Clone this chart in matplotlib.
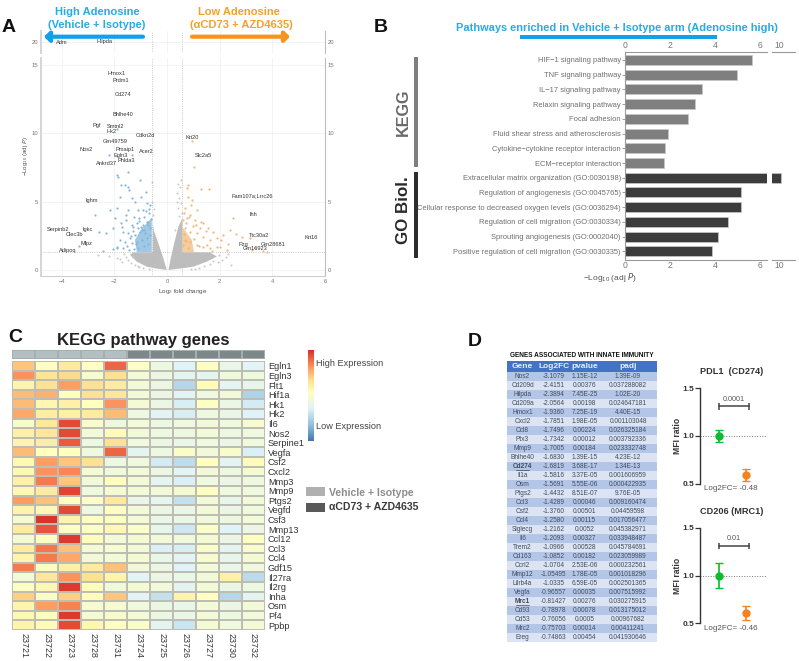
# Multi panel figure: volcano, pathway bars, heatmap, gene table and MFI plots

import numpy as np
import matplotlib
matplotlib.use("Agg")
import matplotlib.pyplot as plt
from matplotlib.colors import LinearSegmentedColormap
from matplotlib.patches import Rectangle

plt.rcParams["font.family"] = ["Liberation Sans", "DejaVu Sans"]
plt.rcParams["mathtext.default"] = "regular"

# ---- panel A data ----
grey_left_x = [-0.01, -0.39, -0.77, -1.15, -1.41, -1.28, -0.545, -0.545, -0.49, -0.33, -0.14]
grey_left_y = [0, 0.10, 0.24, 0.61, 1.10, 1.29, 1.29, 3.41, 2.80, 1.95, 0.85]
grey_right_x = [0.05, 0.49, 1.00, 1.51, 1.89, 1.63, 0.58, 0.58, 0.43, 0.27, 0.14]
grey_right_y = [0, 0.10, 0.24, 0.61, 0.98, 1.29, 1.29, 3.78, 3.17, 1.95, 0.85]
blue_dense_x = [-0.58, -1.15, -1.22, -0.96, -0.58]
blue_dense_y = [1.30, 1.30, 2.20, 3.05, 3.80]
orange_dense_x = [0.58, 1.02, 0.94, 0.62, 0.58]
orange_dense_y = [1.30, 1.30, 2.20, 3.05, 3.05]

blue_x = [-1.91, -1.85, -1.50, -1.60, -1.47, -1.43, -1.76, -1.03, -0.81, -1.91, -2.17, -1.98,
          -2.04, -2.32, -2.57, -2.42, -2.07, -1.89, -1.79, -1.34, -1.22, -1.47, -1.09, -0.77,
          -0.65, -1.56, -1.76, -1.25, -1.05, -0.87, -0.70, -1.34, -1.09, -0.90, -0.71, -1.66,
          -1.47, -1.22, -1.03, -0.84, -0.65, -1.79, -1.60, -1.34, -1.15, -0.96, -0.77, -1.91,
          -1.66, -1.43, -1.24, -3.34, -2.73, -1.89, -2.20, -1.33, -1.13, -0.98, -0.86, -0.74,
          -1.28, -1.41, -1.52, -0.92, -1.18, -0.69, -0.62, -1.72, -1.37, -0.81, -1.00, -1.55,
          -0.66, -0.88, -1.12, -1.31, -0.72, -0.95, -1.08, -0.78]
blue_y = [6.95, 6.83, 7.20, 6.22, 6.10, 5.85, 6.22, 6.59, 5.73, 4.51, 4.39, 3.78,
          3.05, 2.73, 2.80, 1.41, 1.51, 1.59, 5.37, 5.24, 5.00, 4.39, 4.39, 4.88,
          4.76, 4.02, 3.41, 3.90, 3.61, 3.90, 4.15, 3.29, 3.05, 3.29, 3.54, 2.80,
          2.68, 2.56, 2.80, 2.68, 3.05, 2.20, 2.07, 1.95, 2.07, 2.20, 2.32, 1.66,
          1.59, 1.46, 1.51, 1.75, 4.05, 10.30, 8.40, 8.40, 3.42, 3.12, 2.94, 3.27,
          3.12, 2.36, 1.72, 4.42, 1.88, 4.45, 3.72, 3.15, 2.48, 4.28, 5.31, 3.62,
          2.58, 1.78, 1.62, 2.88, 1.92, 2.94, 3.82, 3.48]
orange_x = [1.03, 0.81, 0.75, 0.81, 1.29, 1.61, 0.68, 0.94, 1.13, 0.87, 1.06, 1.38,
            1.57, 1.76, 1.25, 0.75, 0.68, 0.87, 1.13, 1.38, 1.63, 1.89, 2.14, 2.40,
            2.52, 2.84, 3.16, 1.89, 2.27, 0.68, 0.87, 1.13, 1.38, 1.63, 2.02, 3.22,
            3.66, 3.35, 3.79, 0.93, 0.63, 0.72, 0.66, 0.97, 1.04, 0.78, 1.20, 1.46,
            0.62, 0.90, 1.10, 0.70, 1.30, 1.52, 2.05, 2.62, 2.30, 0.83, 0.60, 1.72]
orange_y = [7.51, 6.22, 5.98, 5.37, 5.90, 5.90, 4.51, 5.12, 4.39, 4.02, 3.66, 3.41,
            3.05, 2.80, 3.05, 3.78, 3.05, 2.80, 2.68, 2.44, 2.20, 2.32, 2.56, 2.93,
            3.78, 2.44, 2.32, 1.71, 1.46, 2.20, 2.07, 1.83, 1.66, 1.59, 1.66, 1.46,
            1.41, 1.59, 1.34, 9.45, 4.20, 3.42, 2.62, 3.18, 2.30, 1.62, 1.72, 2.88,
            1.86, 4.72, 3.30, 2.12, 3.52, 1.82, 2.18, 2.66, 1.92, 3.86, 3.62, 1.42]
grey_pts_x = [0.43, 0.50, 0.38, 0.47, 0.53, 0.41, 0.55, 0.36, -0.56, -0.50, -0.55, 0.52, 0.45,
              -1.55, -1.92, -2.20, -2.62, 2.44, 2.10, 1.92, 2.22, -1.70, 0.30, -0.58,
              -1.48, -1.36, -1.22, -1.08, -0.92, -1.62, -1.30, -0.70, 1.62, 1.74, 1.40, 1.20, 0.92,
              1.98, 2.30, -1.80, -1.10, 1.05]
grey_pts_y = [6.30, 6.05, 5.62, 5.25, 4.90, 4.55, 4.20, 4.95, 5.00, 4.45, 4.05, 6.55, 3.95,
              0.95, 0.88, 1.02, 1.10, 0.35, 0.72, 0.55, 0.92, 0.62, 2.90, 6.40,
              0.72, 0.48, 0.40, 0.22, 0.12, 1.20, 0.92, 0.08, 0.42, 0.66, 0.28, 0.12, 0.08,
              1.12, 1.20, 0.78, 0.30, 0.06]

gene_labels = ["Hmox1", "Prdm1", "Cd274", "Bhlhe40", "Pgf", "Smtnl2", "Hk2", "Cdkn2d", "Krt20",
               "Gm49759", "Nos2", "Pmaip1", "Acer2", "Egln3", "Slc2a5", "Phlda3", "Ankrd37",
               "Fam107a;Lrrc26", "Ighm", "Ihh", "Serpinb2", "Igkc", "Clec3b", "Ttc30a2", "Krt16",
               "Mlpz", "Pzg", "Gm28681", "Gm16923", "Adipoq"]
gene_label_x = [-1.94, -1.77, -1.67, -1.67, -2.67, -1.96, -2.12, -0.84, 0.94, -1.96, -3.09, -1.58,
                -0.80, -1.75, 1.37, -1.56, -2.29, 3.22, -2.86, 3.26, -4.13, -3.00, -3.51, 3.49,
                5.49, -3.08, 2.88, 4.04, 3.35, -3.78]
gene_label_y = [14.34, 13.85, 12.83, 11.34, 10.60, 10.50, 10.15, 9.80, 9.70, 9.36, 8.83, 8.78,
                8.68, 8.34, 8.34, 8.02, 7.78, 5.41, 5.05, 4.05, 2.97, 2.97, 2.58, 2.49,
                2.34, 1.93, 1.88, 1.88, 1.56, 1.46]
top_labels = ["Adm", "Hilpda"]
top_label_x = [-3.99, -2.38]
top_label_y = [20, 20]

# ---- panel B data ----
kegg_names = ["HIF\u22121 signaling pathway", "TNF signaling pathway", "IL\u221217 signaling pathway",
              "Relaxin signaling pathway", "Focal adhesion", "Fluid shear stress and atherosclerosis",
              "Cytokine\u2212cytokine receptor interaction", "ECM\u2212receptor interaction"]
kegg_values = [5.63, 4.96, 3.42, 3.13, 2.82, 1.91, 1.79, 1.72]
go_names = ["Extracellular matrix organization (GO:0030198)", "Regulation of angiogenesis (GO:0045765)",
            "Cellular response to decreased oxygen levels (GO:0036294)",
            "Regulation of cell migration (GO:0030334)", "Sprouting angiogenesis (GO:0002040)",
            "Positive regulation of cell migration (GO:0030335)"]
go_values = [10.06, 5.14, 5.14, 4.56, 4.15, 3.89]

# ---- panel C data ----
heat_genes = ["Egln1", "Egln3", "Flt1", "Hif1a", "Hk1", "Hk2", "Il6", "Nos2", "Serpine1", "Vegfa",
              "Csf2", "Cxcl2", "Mmp3", "Mmp9", "Ptgs2", "Vegfd", "Csf3", "Mmp13", "Ccl12", "Ccl3",
              "Ccl4", "Gdf15", "Il27ra", "Il2rg", "Inha", "Osm", "Pf4", "Ppbp"]
heat_samples = ["23721", "23722", "23723", "23728", "23731", "23724", "23725", "23726", "23727", "23730", "23732"]
heat_values = [
    [.72, .53, .62, .53, .90, .52, .43, .36, .52, .41, .37],
    [.82, .65, .68, .48, .66, .46, .42, .38, .38, .44, .44],
    [.58, .66, .80, .66, .62, .46, .42, .26, .55, .38, .40],
    [.74, .76, .53, .66, .64, .46, .42, .37, .44, .45, .24],
    [.74, .57, .60, .53, .82, .47, .42, .34, .52, .42, .33],
    [.78, .61, .60, .62, .74, .43, .37, .34, .43, .41, .36],
    [.49, .63, .95, .49, .43, .46, .43, .44, .45, .44, .48],
    [.60, .64, .95, .46, .55, .45, .43, .43, .46, .43, .44],
    [.58, .61, .92, .43, .66, .44, .42, .41, .44, .42, .44],
    [.74, .53, .53, .44, .90, .38, .43, .50, .45, .49, .35],
    [.56, .80, .72, .66, .43, .44, .33, .28, .53, .38, .55],
    [.56, .82, .84, .47, .44, .46, .42, .37, .45, .43, .47],
    [.60, .86, .72, .45, .54, .46, .38, .35, .44, .42, .43],
    [.56, .62, .96, .44, .47, .46, .45, .47, .52, .44, .44],
    [.80, .73, .52, .51, .63, .41, .39, .29, .46, .40, .46],
    [.58, .56, .95, .43, .53, .46, .42, .41, .45, .42, .44],
    [.47, .99, .58, .52, .52, .46, .41, .41, .45, .43, .46],
    [.62, .93, .52, .52, .56, .51, .40, .32, .50, .36, .42],
    [.47, .52, .98, .54, .46, .47, .45, .44, .47, .42, .52],
    [.62, .87, .73, .47, .48, .46, .35, .34, .50, .38, .49],
    [.58, .86, .78, .45, .46, .47, .41, .37, .48, .40, .47],
    [.86, .52, .60, .62, .73, .45, .42, .36, .46, .41, .44],
    [.46, .64, .82, .66, .58, .37, .42, .41, .45, .60, .27],
    [.52, .56, .98, .55, .44, .47, .45, .38, .46, .42, .43],
    [.70, .50, .70, .54, .72, .37, .29, .58, .53, .26, .38],
    [.58, .80, .85, .48, .48, .44, .42, .41, .46, .42, .46],
    [.56, .54, .98, .47, .49, .46, .42, .41, .46, .43, .46],
    [.58, .55, .95, .57, .52, .50, .38, .31, .47, .44, .46],
]

# ---- panel D data ----
table_genes = ["Nos2", "Cd209d", "Hilpda", "Cd209a", "Hmox1", "Cxcl2", "Ccl8", "Ptx3", "Mmp9", "Bhlhe40",
               "Cd274", "Il1a", "Osm", "Ptgs2", "Ccl3", "Csf2", "Ccl4", "Siglecg", "Il6", "Trem2",
               "Cd163", "Ccrl2", "Mmp12", "Lilrb4a", "Vegfa", "Mrc1", "Cd93", "Cd53", "Mrc2", "Ereg"]
table_lfc = ["-3.1079", "-2.4151", "-2.3894", "-2.0564", "-1.9360", "-1.7851", "-1.7496", "-1.7342", "-1.7005",
             "-1.6830", "-1.6819", "-1.5816", "-1.5691", "-1.4432", "-1.4289", "-1.3760", "-1.2580", "-1.2162",
             "-1.2093", "-1.0966", "-1.0852", "-1.0704", "-1.05495", "-1.0335", "-0.96557", "-0.81427",
             "-0.78978", "-0.76056", "-0.75703", "-0.74863"]
table_pval = ["1.15E-12", "0.00376", "7.45E-25", "0.00198", "7.25E-19", "1.98E-05", "0.00224", "0.00012", "0.00184",
              "1.39E-15", "3.68E-17", "3.37E-05", "5.55E-06", "8.51E-07", "0.00046", "0.00501", "0.00115", "0.0052",
              "0.00327", "0.00528", "0.00182", "2.53E-06", "1.78E-05", "6.59E-05", "0.00035", "0.00276", "0.00078",
              "0.0005", "0.00014", "0.00454"]
table_padj = ["1.39E-09", "0.037288082", "1.02E-20", "0.024647181", "4.40E-15", "0.001103048", "0.026325184",
              "0.003792336", "0.023332748", "4.23E-12", "1.34E-13", "0.001606959", "0.000422935", "9.76E-05",
              "0.009160474", "0.04459598", "0.017056477", "0.045382971", "0.033948487", "0.045784691",
              "0.023059989", "0.000232561", "0.001018296", "0.002501365", "0.007515992", "0.030275915",
              "0.013175012", "0.00967682", "0.00411241", "0.041930646"]

pdl1_means = [1.0, 0.594]
pdl1_errs = [0.0625, 0.06]
cd206_means = [1.0, 0.61]
cd206_errs = [0.13, 0.075]

W, H = 799, 661
BLUE = "#29A9E6"
ORANGE = "#F5A02A"

fig = plt.figure(figsize=(W / 100, H / 100), dpi=100)


def px_axes(left, top, right, bottom):
    # axes placed with picture pixel edges
    return fig.add_axes([left / W, 1 - bottom / H, (right - left) / W, (bottom - top) / H])


# overlay in pixel coordinates for headings, side bars and the table
ov = fig.add_axes([0, 0, 1, 1], zorder=5)
ov.set_xlim(0, W)
ov.set_ylim(H, 0)
ov.axis("off")
ov.patch.set_alpha(0)

for letter, lx, ly in [("A", 9, 28), ("B", 381, 27), ("C", 15, 338), ("D", 475, 342)]:
    ov.text(lx, ly, letter, fontsize=14, fontweight="bold", ha="center", va="center", color="#111111")

# ---- panel A ----
ax_low = px_axes(41, 58, 325, 276)
ax_top = px_axes(41, 31, 325, 53)
x_lim = (-4.79, 6.0)
for ax in (ax_low, ax_top):
    ax.set_xlim(*x_lim)
    ax.set_xticks([-4, -2, 0, 2, 4, 6])
    ax.grid(True, color="#EFEFEF", lw=0.5)
    ax.set_axisbelow(True)
    ax.axvline(-0.58, color="#BBBBBB", lw=0.6, ls=":")
    ax.axvline(0.58, color="#BBBBBB", lw=0.6, ls=":")
    ax.spines["top"].set_visible(False)
    ax.spines["left"].set_color("#D5D5D5")
    ax.spines["left"].set_linewidth(1.4)
    ax.spines["right"].set_color("#BDBDBD")
    ax.spines["bottom"].set_color("#CFCFCF")
    ax.tick_params(length=0, labelsize=4.2, labelcolor="#777777", pad=2, labelright=True, right=False)

ax_low.set_ylim(-0.44, 15.5)
ax_low.set_yticks([0, 5, 10, 15])
ax_low.axhline(1.3, color="#BBBBBB", lw=0.6, ls=":")
ax_low.fill(grey_left_x, grey_left_y, color="#BDBDBD", lw=0)
ax_low.fill(grey_right_x, grey_right_y, color="#BDBDBD", lw=0)
ax_low.fill(blue_dense_x, blue_dense_y, color="#8FBFE0", lw=0, alpha=0.85)
ax_low.fill(orange_dense_x, orange_dense_y, color="#F2C48E", lw=0, alpha=0.85)
ax_low.scatter(grey_pts_x, grey_pts_y, s=2, c="#C8C8C8", lw=0)
ax_low.scatter(blue_x, blue_y, s=2.5, c="#82B6DC", lw=0)
ax_low.scatter(orange_x, orange_y, s=2.5, c="#F0B878", lw=0)
for name, gx, gy in zip(gene_labels, gene_label_x, gene_label_y):
    ax_low.text(gx, gy, name, fontsize=4.1, color="#333333", ha="center", va="center")
ax_low.set_xlabel("Log$_2$ fold change", fontsize=4.6, color="#555555", labelpad=2)
ov.text(26, 156, "\u2212Log$_{10}$ (adj $\\it{P}$)", fontsize=4.4, color="#555555", rotation=90,
        ha="center", va="center")

ax_top.set_ylim(17.6, 22.4)
ax_top.set_yticks([20])
ax_top.spines["bottom"].set_visible(False)
ax_top.tick_params(labelbottom=False)
for name, gx, gy in zip(top_labels, top_label_x, top_label_y):
    ax_top.text(gx, gy, name, fontsize=4.1, color="#333333", ha="center", va="center")

ov.text(97, 12, "High Adenosine", fontsize=8, fontweight="bold", color=BLUE, ha="center", va="center")
ov.text(97, 25, "(Vehicle + Isotype)", fontsize=8, fontweight="bold", color=BLUE, ha="center", va="center")
ov.text(239, 12, "Low Adenosine", fontsize=8, fontweight="bold", color=ORANGE, ha="center", va="center")
ov.text(241, 25, "(\u03b1CD73 + AZD4635)", fontsize=8, fontweight="bold", color=ORANGE, ha="center", va="center")
ov.annotate("", xy=(44, 36.7), xytext=(143, 36.7),
            arrowprops=dict(arrowstyle="-|>,head_width=0.3,head_length=0.3", color="#12A0EA", lw=3, shrinkA=0, shrinkB=0))
ov.annotate("", xy=(290, 36.7), xytext=(192, 36.7),
            arrowprops=dict(arrowstyle="-|>,head_width=0.3,head_length=0.3", color="#F7941D", lw=3, shrinkA=0, shrinkB=0))

# ---- panel B ----
bar_names = kegg_names + go_names
bar_values = np.array(kegg_values + go_values)
bar_colors = ["#7F7F7F"] * len(kegg_values) + ["#3C3C3C"] * len(go_values)
bar_pos = np.arange(len(bar_values))
ax_b1 = px_axes(625, 51.7, 766.7, 260)
ax_b2 = px_axes(772.3, 51.7, 794.7, 260)
# row pitch is 14.72 px, first row centre 8.3 px under the axis top
b_ylim = (bar_pos[-1] + (260 - 251.3) / 14.72, -(60 - 51.7) / 14.72)
for ax in (ax_b1, ax_b2):
    ax.barh(bar_pos, bar_values, height=0.68, color=bar_colors, edgecolor="#C9C9C9", lw=0.5)
    ax.set_ylim(*b_ylim)
    ax.spines["right"].set_visible(False)
    ax.spines["top"].set_color("#999999")
    ax.spines["bottom"].set_color("#999999")
    ax.tick_params(axis="x", length=0, labelsize=6.2, labelcolor="#777777", pad=1, labeltop=True)
ax_b1.set_xlim(0, 6.3)
ax_b1.set_xticks([0, 2, 4, 6])
ax_b1.spines["left"].set_color("#999999")
ax_b1.set_yticks(bar_pos)
ax_b1.set_yticklabels(bar_names, fontsize=5.45, color="#6E6E6E")
ax_b1.tick_params(axis="y", length=2, width=0.5, color="#777777", pad=1)
ax_b2.set_xlim(9.69, 10.68)
ax_b2.set_xticks([10])
ax_b2.set_yticks([])
ax_b2.spines["left"].set_visible(False)
ov.text(617, 28, "Pathways enriched in Vehicle + Isotype arm (Adenosine high)", fontsize=7.95,
        fontweight="bold", color=BLUE, ha="center", va="center")
ov.add_patch(Rectangle((520, 35.3), 197, 4, color="#12A0EA", lw=0))
ov.add_patch(Rectangle((414.3, 57), 4, 110, color="#7F7F7F", lw=0))
ov.add_patch(Rectangle((414.3, 171.7), 4, 86, color="#2E2E2E", lw=0))
ov.text(403, 112, "KEGG", fontsize=11.6, fontweight="bold", color="#6A6A6A", rotation=90, ha="center", va="center")
ov.text(403, 210, "GO Biol.", fontsize=12.2, fontweight="bold", color="#2A2A2A", rotation=90, ha="center", va="center")
ov.text(610, 278, "\u2212Log$_{10}$ (adj $\\it{P}$)", fontsize=6, color="#555555", ha="center", va="center")

# ---- panel C ----
heat_cmap = LinearSegmentedColormap.from_list(
    "heat", [(0, "#4575B4"), (0.17, "#91BFDB"), (0.36, "#E0F3F8"), (0.53, "#FFFFBF"),
             (0.67, "#FEE090"), (0.83, "#FC8D59"), (1, "#D73027")])
ax_c = px_axes(12.3, 361, 265, 630)
ax_c.pcolormesh(np.array(heat_values), cmap=heat_cmap, vmin=0, vmax=1, edgecolors="#BDBDB4", linewidth=0.35)
ax_c.set_ylim(len(heat_genes), 0)
ax_c.set_yticks(np.arange(len(heat_genes)) + 0.5)
ax_c.set_yticklabels(heat_genes, fontsize=6.6, color="#333333")
ax_c.yaxis.tick_right()
ax_c.set_xticks(np.arange(len(heat_samples)) + 0.5)
ax_c.set_xticklabels(heat_samples, fontsize=6.4, rotation=270, color="#333333")
ax_c.tick_params(length=0, pad=2)
for side in ax_c.spines.values():
    side.set_visible(False)

ax_ann = px_axes(12.3, 350.3, 265, 359.3)
ann_colors = np.array([[0.0] * 5 + [1.0] * 6])
ax_ann.pcolormesh(ann_colors, cmap=LinearSegmentedColormap.from_list("ann", ["#B3BFC2", "#7C8889"]),
                  edgecolors="#A5AFB0", linewidth=0.2)
ax_ann.axis("off")
ov.text(143, 341, "KEGG pathway genes", fontsize=12, fontweight="bold", color="#222222", ha="center", va="center")

ax_cb = px_axes(307.7, 350, 313.7, 440.7)
ax_cb.imshow(np.linspace(1, 0, 256).reshape(-1, 1), cmap=heat_cmap, aspect="auto")
ax_cb.axis("off")
ov.text(316, 364, "High Expression", fontsize=6.6, color="#444444", va="center")
ov.text(316, 426.7, "Low Expression", fontsize=6.6, color="#444444", va="center")
ov.add_patch(Rectangle((306.3, 486.7), 19, 9.3, color="#B0B0B0", lw=0))
ov.add_patch(Rectangle((306.3, 503), 19, 9.3, color="#595959", lw=0))
ov.text(329.3, 492.7, "Vehicle + Isotype", fontsize=7.6, fontweight="bold", color="#8C8C8C", va="center")
ov.text(329.3, 506.7, "\u03b1CD73 + AZD4635", fontsize=7.6, fontweight="bold", color="#3A3A3A", va="center")

# ---- panel D table ----
col_edges = [507.3, 537.7, 570, 599.3, 656.7]
col_heads = ["Gene", "Log2FC", "pvalue", "padj"]
row_h = 9.01
rows_top = 371.5
ov.text(510, 355.3, "GENES ASSOCIATED WITH INNATE IMMUNITY", fontsize=4.7, fontweight="bold",
        color="#111111", va="center")
ov.add_patch(Rectangle((col_edges[0], 360.7), col_edges[-1] - col_edges[0], 10.8, color="#4472C4", lw=0))
for c, head in enumerate(col_heads):
    ov.text((col_edges[c] + col_edges[c + 1]) / 2, 366, head, fontsize=6, color="#E8EEF8",
            ha="center", va="center", fontweight="bold")
for r in range(len(table_genes)):
    y_top = rows_top + r * row_h
    band = "#B4C6E7" if r % 2 == 0 else "#DCE4F3"
    ov.add_patch(Rectangle((col_edges[0], y_top), col_edges[-1] - col_edges[0], row_h, color=band, lw=0))
    cells = [table_genes[r], table_lfc[r], table_pval[r], table_padj[r]]
    bold = table_genes[r] in ("Cd274", "Mrc1")
    for c, cell in enumerate(cells):
        ov.text((col_edges[c] + col_edges[c + 1]) / 2, y_top + row_h / 2, cell, fontsize=4.7, color="#3F4A5C",
                ha="center", va="center", fontweight="bold" if (bold and c == 0) else "normal")
for name, ul_y in [("Cd274", rows_top + 10.9 * row_h), ("Mrc1", rows_top + 25.9 * row_h)]:
    ov.plot([516, 529], [ul_y, ul_y], color="#222222", lw=0.4)


# ---- panel D dot plots ----
def mfi_plot(top_px, bottom_px, means, errs, p_text, fc_text, title, title_y):
    ax = px_axes(700.3, top_px, 766, bottom_px)
    ax.patch.set_alpha(0)
    ax.set_xlim(0.332, 2.74)
    ax.set_ylim(0.5, 1.5)
    ax.axhline(1.0, color="#777777", lw=0.7, ls=":")
    for xp, m, e, col in zip([1, 2], means, errs, ["#0DBB2E", "#F58220"]):
        ax.errorbar([xp], [m], yerr=[e], fmt="o", color=col, ms=5, capsize=2.6, elinewidth=1.2, capthick=1)
    ax.errorbar([1, 2.12], [1.31, 1.31], yerr=[0.035, 0.035], color="#444444", lw=1.1, capsize=0, elinewidth=1.1)
    ax.text(1.55, 1.385, p_text, fontsize=5.2, color="#555555", ha="center", va="center")
    ax.set_yticks([0.5, 1.0, 1.5])
    ax.set_yticklabels(["0.5", "1.0", "1.5"], fontsize=6, fontweight="bold", color="#333333")
    ax.set_xticks([])
    ax.tick_params(axis="y", length=3.5, width=0.9, color="#333333", pad=1)
    ax.spines["left"].set_color("#333333")
    ax.spines["left"].set_linewidth(1)
    for side in ("top", "right", "bottom"):
        ax.spines[side].set_visible(False)
    ov.text(677.7, (top_px + bottom_px) / 2, "MFI ratio", fontsize=6.2, fontweight="bold", color="#333333",
            rotation=90, ha="center", va="center")
    ov.text(730.7, bottom_px + 5, fc_text, fontsize=5.8, color="#555555", ha="center", va="center")
    ov.text(732, title_y, title, fontsize=6.6, fontweight="bold", color="#333333", ha="center", va="center")


mfi_plot(388, 484, pdl1_means, pdl1_errs, "0.0001", "Log2FC= -0.48", "PDL1  (CD274)", 371.7)
mfi_plot(528, 623.3, cd206_means, cd206_errs, "0.01", "Log2FC= -0.46", "CD206 (MRC1)", 511.3)

fig.savefig("out.png", dpi=100)
